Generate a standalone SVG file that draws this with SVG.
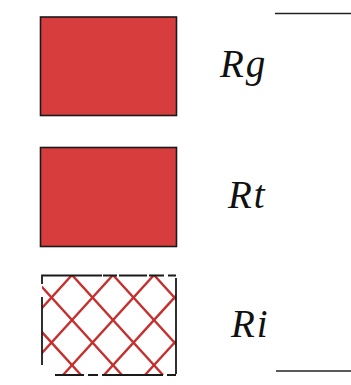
<svg xmlns="http://www.w3.org/2000/svg" width="351" height="385" viewBox="0 0 351 385">
<style>
.fill{fill:#d83d3e;stroke:#1a1a1a;stroke-width:1.6}
.lbl{font-family:"Liberation Serif","Times New Roman",serif;font-style:italic;font-size:39px;letter-spacing:2px;fill:#111}
.rule{stroke:#222;stroke-width:1.6}
.hatch{stroke:#c52f2e;stroke-width:2.4;fill:none}
.edge{stroke:#1a1a1a;stroke-width:1.8;fill:none}
</style>
<defs>
<clipPath id="clipRi"><rect x="42" y="275" width="134" height="100"/></clipPath>
</defs>
<rect width="351" height="385" fill="#fff"/>
<g id="connectors">
<line class="rule" x1="275" y1="13.5" x2="351" y2="13.5"/>
<line class="rule" x1="276" y1="371" x2="351" y2="371"/>
</g>
<g id="Rg">
<rect class="fill" x="40.5" y="17" width="136" height="98.5"/>
<text class="lbl" x="220" y="77">Rg</text>
</g>
<g id="Rt">
<rect class="fill" x="40.5" y="147.5" width="136" height="99"/>
<text class="lbl" x="228" y="208">Rt</text>
</g>
<g id="Ri">
<rect x="42" y="275" width="134" height="100" fill="#fff"/>
<g clip-path="url(#clipRi)" class="hatch">
<line x1="-51" y1="275" x2="40" y2="375"/>
<line x1="-10" y1="275" x2="81" y2="375"/>
<line x1="31" y1="275" x2="122" y2="375"/>
<line x1="72" y1="275" x2="163" y2="375"/>
<line x1="113" y1="275" x2="204" y2="375"/>
<line x1="154" y1="275" x2="245" y2="375"/>
<line x1="72" y1="275" x2="-19" y2="375"/>
<line x1="113" y1="275" x2="22" y2="375"/>
<line x1="154" y1="275" x2="63" y2="375"/>
<line x1="195" y1="275" x2="104" y2="375"/>
<line x1="236" y1="275" x2="145" y2="375"/>
<line x1="277" y1="275" x2="186" y2="375"/>
</g>
<path class="edge" d="M42,284 V275.5 H102 M103,275.5 H117 M119,275.5 H147 M149,275.5 H164 M168,275.5 H176 M42,297 V365 M176,278 V374 M55,375 H84 M88,375 H98 M102,375 H163 M167,375 H176"/>
<text class="lbl" x="231" y="337">Ri</text>
</g>
</svg>
